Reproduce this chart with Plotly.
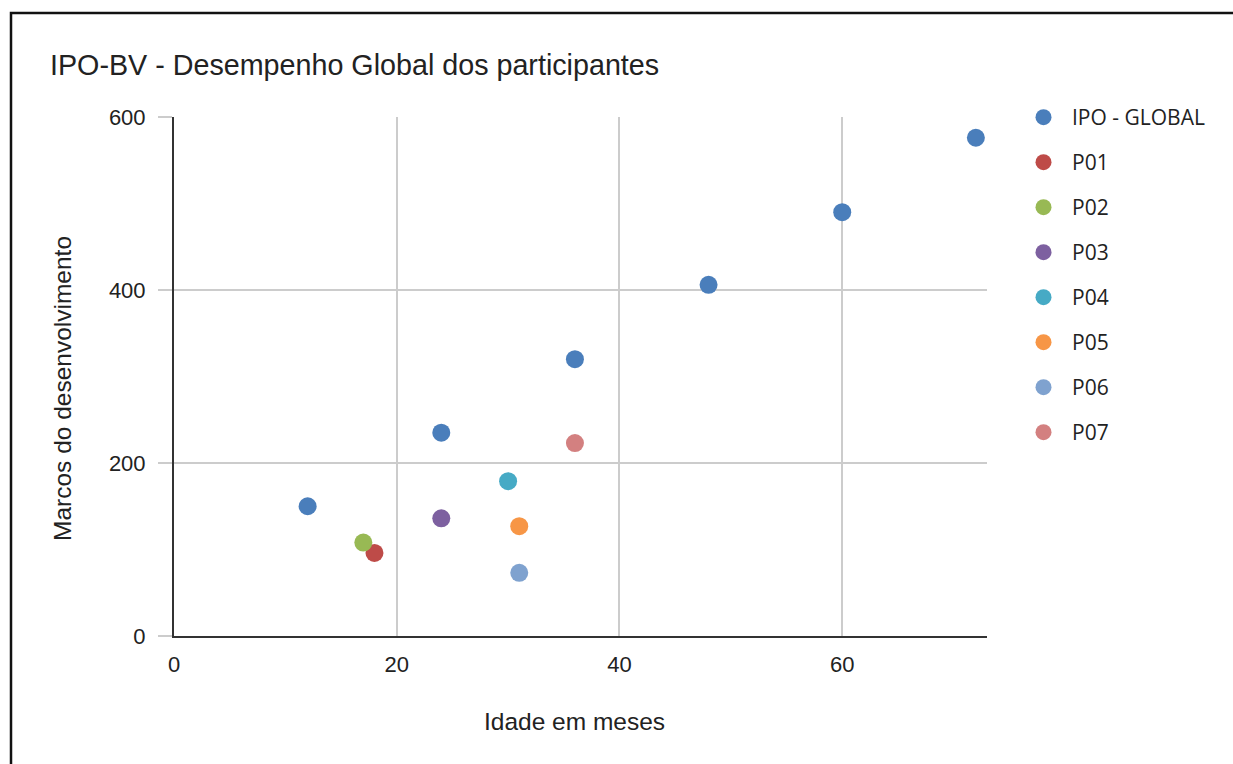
import plotly.graph_objects as go

series_names = ["IPO - GLOBAL", "P01", "P02", "P03", "P04", "P05", "P06", "P07"]
series_x = [
    [12, 24, 36, 48, 60, 72],
    [18], [17], [24], [30], [31], [31], [36],
]
series_y = [
    [150, 235, 320, 406, 490, 576],
    [96], [108], [136], [179], [127], [73], [223],
]
colors = ["#4a7ebb", "#be4b48", "#98b954", "#7d60a0", "#46aac5", "#f79646", "#7fa2cf", "#d38080"]

x_ticks = [0, 20, 40, 60]
y_ticks = [0, 200, 400, 600]

fig = go.Figure()
for i, name in enumerate(series_names):
    fig.add_trace(go.Scatter(
        x=series_x[i], y=series_y[i], mode="markers", name=name,
        legendgroup=name,
        marker=dict(size=18, color=colors[i]),
    ))

L, R, T, B = 174, 246, 117, 128
W, H = 1233, 764
pw = W - L - R
ph = H - T - B

# border (decoration)
bx = (11 - L) / pw
by = (H - B - 13) / ph
fig.add_shape(type="path", xref="paper", yref="paper",
              path=f"M {bx},-0.5 L {bx},{by} L 1.6,{by}",
              line=dict(color="#111111", width=2.5))

# axis titles as annotations for exact placement
fig.add_annotation(text="Idade em meses", xref="paper", yref="paper",
                   x=(574 - L) / pw, y=(H - B - 721) / ph, xanchor="center", yanchor="middle",
                   showarrow=False, font=dict(size=24.5, color="#222222"))
fig.add_annotation(text="Marcos do desenvolvimento", xref="paper", yref="paper",
                   x=(62 - L) / pw, y=(H - B - 389) / ph, xanchor="center", yanchor="middle",
                   textangle=-90, showarrow=False, font=dict(size=24.5, color="#222222"))

fig.update_layout(
    width=W, height=H,
    margin=dict(l=L, r=R, t=T, b=B),
    paper_bgcolor="white", plot_bgcolor="white",
    title=dict(text="IPO-BV - Desempenho Global dos participantes",
               x=50 / W, xanchor="left", y=1 - 65 / H, yanchor="middle",
               font=dict(family="Liberation Sans, Arial", size=28.7, color="#222222")),
    font=dict(family="Liberation Sans, Arial", color="#222222"),
    legend=dict(x=(1015 - L) / pw, xanchor="left", y=(H - B - 97) / ph, yanchor="top",
                font=dict(family="Open Sans", size=21, color="#222222"),
                tracegroupgap=14.7, itemsizing="trace", itemwidth=47, bgcolor="rgba(0,0,0,0)"),
    xaxis=dict(range=[0, 73], tickvals=x_ticks, showgrid=True, gridcolor="#cccccc", gridwidth=1.5,
               zeroline=False, showline=True, linecolor="#333333", linewidth=2,
               ticks="", tickfont=dict(size=22), ticklabelstandoff=8),
    yaxis=dict(range=[0, 600], tickvals=y_ticks, showgrid=True, gridcolor="#cccccc", gridwidth=1.5,
               zeroline=False, showline=True, linecolor="#333333", linewidth=2,
               ticks="outside", ticklen=14, tickcolor="#cccccc", tickwidth=1.5,
               tickfont=dict(size=22), ticklabelstandoff=8),
    showlegend=True,
)

fig.write_html("out.html")
